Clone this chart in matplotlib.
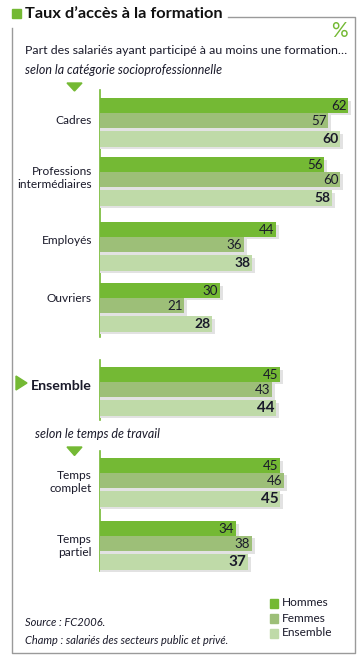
import matplotlib
matplotlib.use("Agg")
import matplotlib.pyplot as plt
from matplotlib.patches import Polygon, Rectangle

plt.rcParams["font.family"] = ["Lato", "DejaVu Sans"]

# ---- data ----
categories = ["Cadres", "Professions\nintermédiaires", "Employés", "Ouvriers",
              "Ensemble", "Temps\ncomplet", "Temps\npartiel"]
hommes = [62, 56, 44, 30, 45, 45, 34]
femmes = [57, 60, 36, 21, 43, 46, 38]
ensemble = [60, 58, 38, 28, 44, 45, 37]
series_names = ["Hommes", "Femmes", "Ensemble"]

# ---- layout (pixels) ----
W, H = 362, 662
group_tops = [98, 157, 222, 283, 367, 458, 521]
bar_off = [0, 14.5, 33]
bar_h = [14.5, 15.5, 15.5]
colors = ["#74b934", "#9dbf78", "#bfdaa8"]
shadow = "#e2e2e2"
green = "#74b934"
dark = "#1a1a2a"

fig = plt.figure(figsize=(W / 100, H / 100), dpi=100)
ax = fig.add_axes([0, 0, 1, 1])
ax.set_xlim(0, W)
ax.set_ylim(H, 0)
ax.axis("off")

x0 = 100
px_per_unit = 4.0
bax = fig.add_axes([x0 / W, 0, (W - x0) / W, 1])
bax.set_xlim(0, (W - x0) / px_per_unit)
bax.set_ylim(H, 0)
bax.axis("off")
bax.patch.set_alpha(0)

series = [hommes, femmes, ensemble]
for si, vals in enumerate(series):
    ys = [g + bar_off[si] for g in group_tops]
    # shadows
    bax.barh([y + 2.5 for y in ys], [v + 0.8 for v in vals], height=bar_h[si],
             left=0, align="edge", color=shadow, zorder=1 + si * 2)
    bax.barh(ys, vals, height=bar_h[si], left=0, align="edge",
             color=colors[si], zorder=2 + si * 2)
    for gi, (y, v) in enumerate(zip(ys, vals)):
        bold = (si == 2)
        fs = 11 if (bold and gi >= 4) else (10 if bold else 9.6)
        bax.text(v - 0.4, y + bar_h[si] / 2 + 0.5, str(v), ha="right", va="center",
                 fontsize=fs, color=dark, fontweight="bold" if bold else "normal",
                 zorder=10)

# vertical axis lines
for y1, y2 in [(90, 337), (360, 420), (451, 571)]:
    ax.plot([x0, x0], [y1, y2], color=green, lw=1.2, zorder=12)

# category labels
label_y = [121, 178, 241, 299, 386, 482, 546]
for gi, (lab, y) in enumerate(zip(categories, label_y)):
    if lab == "Ensemble":
        ax.text(92, y, lab, ha="right", va="center", fontsize=10.2,
                fontweight="bold", color=dark)
    else:
        ax.text(92, y, lab, ha="right", va="center", fontsize=8.6,
                color=dark, linespacing=1.2)

# pointers
ax.add_patch(Polygon([[67, 83], [82, 83], [74.5, 91]], closed=True, color=green))
ax.add_patch(Polygon([[67, 447], [82, 447], [74.5, 455.5]], closed=True, color=green))
ax.add_patch(Polygon([[16, 376], [16, 390], [27, 383]], closed=True, color=green))

# frame
fc = "#9a9a9a"
ax.plot([228, 355, 355, 12, 12], [17, 17, 652.5, 652.5, 28], color=fc, lw=1)

# title
ax.add_patch(Rectangle((12, 9), 9, 9, color=green))
ax.text(25, 14, "Taux d\u2019accès à la formation", ha="left", va="center",
        fontsize=11.8, fontweight="bold", color="#111111")
ax.text(339, 31, "%", ha="center", va="center", fontsize=15, color=green)

ax.text(25, 50, "Part des salariés ayant participé à au moins une formation…",
        ha="left", va="center", fontsize=8.9, color=dark)
ax.text(25, 70, "selon la catégorie socioprofessionnelle", ha="left",
        va="center", fontsize=9.0, style="italic", color=dark)
ax.text(35, 434, "selon le temps de travail", ha="left", va="center",
        fontsize=9.0, style="italic", color=dark)

# legend
for i, (name, c) in enumerate(zip(series_names, colors)):
    y = 603 + i * 15
    ax.add_patch(Rectangle((270, y - 4.5), 8, 9, color=c))
    ax.text(282, y, name, ha="left", va="center", fontsize=8.6, color=dark)

ax.text(25, 622, "Source : FC2006.", ha="left", va="center", fontsize=8,
        style="italic", color=dark)
ax.text(25, 640, "Champ : salariés des secteurs public et privé.", ha="left",
        va="center", fontsize=7.9, style="italic", color=dark)

fig.savefig("out.png", dpi=100)
